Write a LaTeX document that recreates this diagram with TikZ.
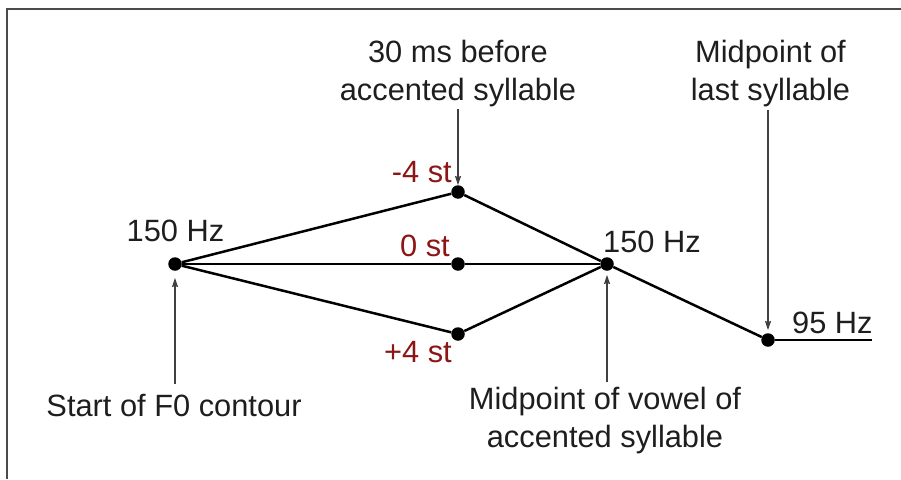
\documentclass[tikz,border=0pt]{standalone}
\usepackage{fontspec}
\setmainfont{Liberation Sans}
\usetikzlibrary{arrows.meta}
\definecolor{dred}{RGB}{140,22,22}
\definecolor{ink}{RGB}{30,30,30}
\begin{document}
\begin{tikzpicture}[x=1pt,y=-1pt,
  txt/.style={inner sep=0pt, font=\fontsize{30.8}{38}\selectfont, text=ink, align=center},
  rlab/.style={txt, text=dred},
  dot/.style={circle, fill=black, inner sep=0pt, minimum size=13.5pt},
  contour/.style={line width=2.5pt, draw=black},
  pointer/.style={line width=1.2pt, draw=ink!85!white, -{Stealth[length=9pt,width=6pt,inset=1pt]}},
  frame/.style={line width=1.3pt, draw=ink!80!white}]
\useasboundingbox (0,0) rectangle (901,479);
% frame (top and left edges)
\draw[frame] (7,479) -- (7,9) -- (901,9);
% contour points
\node[dot] (A) at (175,264) {};
\node[dot] (T) at (458,192) {};
\node[dot] (M) at (458,264) {};
\node[dot] (B) at (458,334) {};
\node[dot] (V) at (607,264) {};
\node[dot] (L) at (768,340) {};
\coordinate (Lend) at (872,340);
% contour lines
\draw[contour] (A) -- (T);
\draw[contour] (A) -- (M);
\draw[contour] (A) -- (B);
\draw[contour] (T) -- (V);
\draw[contour] (M) -- (V);
\draw[contour] (B) -- (V);
\draw[contour] (V) -- (L);
\draw[contour] (L) -- (Lend);
% value labels
\node[txt, anchor=base] (hzA) at (175.5,241) {150 Hz};
\node[txt, anchor=base west] (hzV) at (603,252) {150 Hz};
\node[txt, anchor=base west] (hzL) at (792,333) {95 Hz};
\node[rlab, anchor=base east] (stT) at (452,182) {-4 st};
\node[rlab, anchor=base east] (stM) at (450,256) {0 st};
\node[rlab, anchor=base east] (stB) at (452,362) {+4 st};
% descriptive labels (base = baseline of last line)
\node[txt, anchor=base] (lab30) at (458,100) {30 ms before\\accented syllable};
\node[txt, anchor=base] (labLast) at (770.5,100) {Midpoint of\\last syllable};
\node[txt, anchor=base] (labStart) at (174,416) {Start of F0 contour};
\node[txt, anchor=base] (labVowel) at (605,447) {Midpoint of vowel of\\accented syllable};
% pointers
\draw[pointer, shorten <=2pt] (lab30.south -| T) -- (T);
\draw[pointer, shorten <=3pt, shorten >=3pt] (labLast.south -| L) -- (L);
\draw[pointer, shorten <=10pt, shorten >=7pt] (labStart.north -| A) -- (A);
\draw[pointer, shorten <=4pt, shorten >=4pt] (labVowel.north -| V) -- (V);
\end{tikzpicture}
\end{document}
